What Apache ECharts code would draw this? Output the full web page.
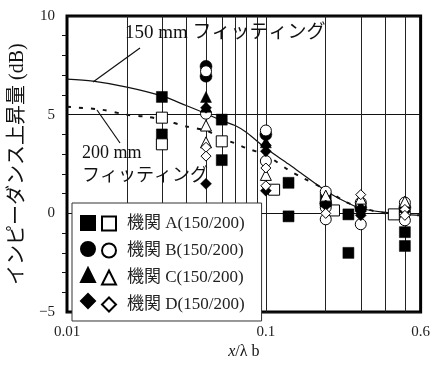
<!DOCTYPE html>
<html><head><meta charset="utf-8">
<script src="https://cdn.jsdelivr.net/npm/echarts@6/dist/echarts.min.js"></script>
<style>html,body{margin:0;padding:0;background:#fff}#c{width:433px;height:365px}</style>
</head><body><div id="c"></div>
<script>
var SERIF = "'Liberation Serif','Noto Sans CJK JP',serif";
var xLabelTicks = [0.01, 0.1, 0.6];
var xGridLines = [0.02,0.03,0.04,0.05,0.06,0.07,0.08,0.09,0.1,0.2,0.3,0.4,0.5];
var yTicks = [-5, 0, 5, 10];

// 機関 A
var A150 = [[0.03,5.9],[0.03,4.0],[0.06,4.75],[0.06,2.7],[0.13,1.55],[0.13,-0.15],[0.2,0.75],[0.26,-0.05],[0.26,-2.0],[0.5,-0.95],[0.5,-1.65]];
var A200 = [[0.03,4.85],[0.03,3.5],[0.06,3.65],[0.11,1.2],[0.22,0.15],[0.44,-0.05]];
// 機関 B
var B150 = [[0.05,7.45],[0.05,6.95],[0.1,4.0],[0.2,0.5],[0.3,0.3],[0.5,0.3]];
var B200 = [[0.05,7.2],[0.05,5.05],[0.1,4.2],[0.1,2.65],[0.2,1.1],[0.2,0.3],[0.2,-0.3],[0.3,0.55],[0.3,-0.55],[0.5,0.55],[0.5,0.0],[0.5,-0.35]];
// 機関 C
var C150 = [[0.05,5.9],[0.05,5.4],[0.1,3.6],[0.2,0.6],[0.3,0.4],[0.5,0.4]];
var C200 = [[0.05,4.45],[0.05,3.6],[0.1,1.95],[0.2,0.9],[0.3,0.75],[0.5,0.6]];
// 機関 D
var D150 = [[0.05,5.35],[0.05,1.5],[0.1,3.45],[0.1,3.15],[0.1,1.15],[0.2,0.4],[0.3,0.1],[0.3,-0.1],[0.5,0.1]];
var D200 = [[0.05,3.35],[0.05,2.9],[0.1,2.3],[0.1,1.4],[0.2,0.0],[0.3,0.95],[0.5,0.2],[0.5,-0.1]];

// fitting curves
var fit150 = [[0.01,6.8],[0.0135,6.7],[0.02,6.4],[0.03,5.95],[0.04,5.45],[0.05,5.05],[0.06,4.7],[0.07,4.45],[0.08,4.1],[0.1,3.3],[0.13,2.5],[0.15,2.05],[0.2,1.15],[0.25,0.6],[0.3,0.25],[0.4,0.05],[0.5,-0.05],[0.6,-0.1]];
var fit200 = [[0.01,5.4],[0.015,5.25],[0.02,5.0],[0.025,4.9],[0.03,4.75],[0.04,4.4],[0.05,4.2],[0.06,3.8],[0.07,3.55],[0.08,3.3],[0.1,2.95],[0.13,2.2],[0.15,1.85],[0.2,1.2],[0.25,0.6],[0.3,0.3],[0.4,0.0],[0.6,-0.1]];

var legendNames = {A200:'機関 A(150/200)', B200:'機関 B(150/200)', C200:'機関 C(150/200)', D200:'機関 D(150/200)'};

function pts(name, data, symbol, size, filled) {
  return {
    name: name, type: 'scatter', data: data, symbol: symbol, symbolSize: size, z: 5,
    itemStyle: filled ? {color:'#000', borderColor:'#000', borderWidth:0.5, opacity:1} : {color:'#fff', borderColor:'#000', borderWidth:1, opacity:1},
    emphasis: {disabled: true}
  };
}

var chart = echarts.init(document.getElementById('c'), null, {renderer:'canvas'});
chart.setOption({
  animation: false,
  backgroundColor: '#fff',
  grid: {left: 67, right: 12, top: 16, bottom: 49, show: true, borderColor: '#000', borderWidth: 3, backgroundColor: 'transparent'},
  xAxis: {
    type: 'log', logBase: 10, min: 0.01, max: 0.6,
    name: '{i|x}/λ b', nameLocation: 'middle', nameGap: 30,
    nameTextStyle: {fontFamily: SERIF, fontSize: 16, color: '#111', rich: {i: {fontFamily: SERIF, fontStyle: 'italic', fontSize: 16, color:'#111'}}},
    axisLine: {show: false}, axisTick: {show: false}, splitLine: {show: false},
    axisLabel: {customValues: xLabelTicks, fontFamily: SERIF, fontSize: 15, color: '#222', margin: 12, showMinLabel: true, showMaxLabel: true,
      formatter: function (v) { return String(+v.toPrecision(3)); }}
  },
  yAxis: {
    type: 'value', min: -5, max: 10, interval: 5,
    name: 'インピーダンス上昇量 (dB)', nameLocation: 'middle', nameGap: 33, nameRotate: 90,
    nameTextStyle: {fontFamily: SERIF, fontSize: 20, color: '#111'},
    axisLine: {show: false},
    axisTick: {show: false},
    minorTick: {show: true, splitNumber: 5, length: 5, lineStyle: {color: '#111', width: 1}},
    splitLine: {show: true, lineStyle: {color: '#111', width: 1}},
    axisLabel: {fontFamily: SERIF, fontSize: 15, color: '#222', margin: 12,
      formatter: function (v) { return v < 0 ? '−' + Math.abs(v) : String(v); }}
  },
  legend: [
    {data: ['A150','B150','C150','D150'], orient: 'vertical', left: 75, top: 210, itemWidth: 14, itemHeight: 14, itemGap: 10,
      formatter: function () { return ''; }, selectedMode: false, z: 30, textStyle: {fontSize: 1, lineHeight: 14}},
    {data: ['A200','B200','C200','D200'], orient: 'vertical', left: 72, top: 203, itemWidth: 14, itemHeight: 14, itemGap: 10,
      padding: [12, 17, 8, 29], backgroundColor: '#fff', borderColor: '#333', borderWidth: 1,
      formatter: function (n) { return legendNames[n]; }, selectedMode: false, z: 20,
      textStyle: {fontFamily: SERIF, fontSize: 17, lineHeight: 14, color: '#222', padding: [0,0,0,6]}}
  ],
  graphic: [
    {type: 'text', left: 125, top: 24, z: 6, style: {text: '150 mm フィッティング', font: '19px ' + SERIF, fill: '#111'}},
    {type: 'text', left: 82, top: 144, z: 6, style: {text: '200 mm', font: '18px ' + SERIF, fill: '#111'}},
    {type: 'text', left: 82, top: 167, z: 6, style: {text: 'フィッティング', font: '18px ' + SERIF, fill: '#111'}},
    {type: 'line', shape: {x1: 140, y1: 48, x2: 93, y2: 82}, style: {stroke: '#111', lineWidth: 1.2}, z: 6},
    {type: 'line', shape: {x1: 97, y1: 110, x2: 120, y2: 143}, style: {stroke: '#111', lineWidth: 1.2}, z: 6}
  ],
  series: [
    {type: 'line', name: 'grid', data: [], silent: true,
      markLine: {silent: true, symbol: ['none','none'], label: {show: false},
        lineStyle: {color: '#222', width: 1, type: 'solid'},
        data: xGridLines.map(function (v) { return {xAxis: v}; })}},
    {type: 'line', name: 'fit150', data: fit150, showSymbol: false, symbol: 'none', smooth: 0.3, z: 3,
      lineStyle: {color: '#111', width: 1.2}},
    {type: 'line', name: 'fit200', data: fit200, showSymbol: false, symbol: 'none', smooth: 0.3, z: 3,
      lineStyle: {color: '#111', width: 2, type: [4, 8]}},
    pts('A150', A150, 'rect', 11, true),
    pts('A200', A200, 'rect', 11, false),
    pts('B150', B150, 'circle', 12, true),
    pts('B200', B200, 'circle', 11, false),
    pts('C150', C150, 'triangle', 11, true),
    pts('C200', C200, 'triangle', 11, false),
    pts('D150', D150, 'diamond', 11, true),
    pts('D200', D200, 'diamond', 10, false)
  ]
});
</script></body></html>
